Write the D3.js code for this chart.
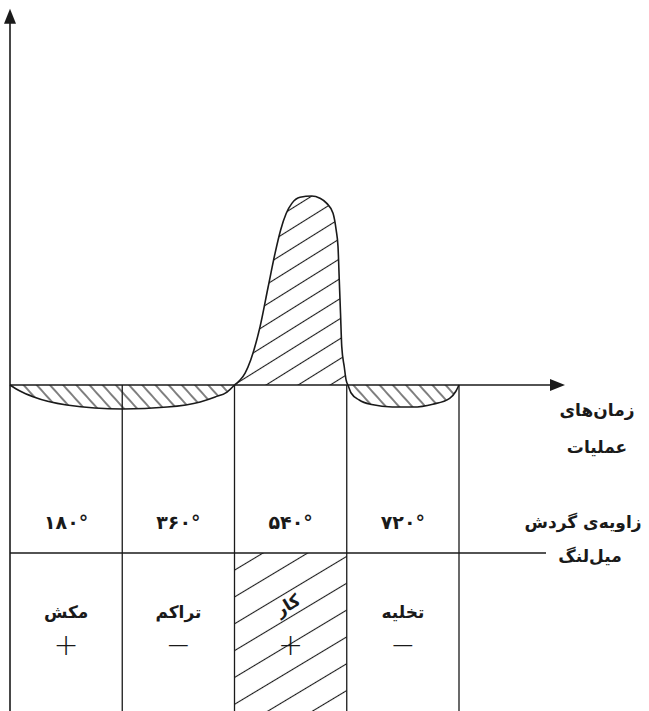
<!DOCTYPE html>
<html lang="fa">
<head>
<meta charset="UTF-8">
<title>چرخه‌ی موتور چهارزمانه</title>
<script src="https://d3js.org/d3.v7.min.js"></script>
<style>
  html, body { margin: 0; padding: 0; background: #fff; }
  svg { display: block; }
  .fa { font-family: "DejaVu Sans", sans-serif; font-weight: bold; fill: #1a1a1a; }
</style>
</head>
<body>
<svg id="chart"></svg>
<script>
// crank angle ticks (degrees) and their labels
const crankTicks = [180, 360, 540, 720];
const angleLabels = ["۱۸۰°", "۳۶۰°", "۵۴۰°", "۷۲۰°"];

// strokes and sign of work in each
const strokeNames = ["مکش", "تراکم", "کار", "تخلیه"];
const strokeSigns = ["+", "−", "+", "−"];
const workStroke = "کار";

// pressure curve pieces: [crank angle, pressure]
const intakeCompression = [[0, 0], [16, -3.2], [37, -6.2], [91, -10.5], [181, -12.6], [252, -11.6],
  [305, -8.9], [329, -6.3], [348, -3.7], [360, 0]];
const powerBump = [[360, 0], [369, 2.6], [377, 6.3], [386, 13.2], [401, 30.7], [414, 51.7], [425, 69.3],
  [434, 81.6], [443, 90.4], [452, 95.6], [465, 98.8], [484, 99.5], [497, 98.3], [508, 95.6], [518, 90.4],
  [523, 81.6], [526, 72.8], [528, 55.3], [530, 37.8], [532, 20.2], [536, 9.6], [539, 2.6], [542, 0]];
const exhaust = [[542, 0], [547, -4.2], [560, -7.9], [580, -10.3], [613, -11.6], [646, -11.6],
  [678, -10.1], [705, -7], [715, -3.3], [720, 0]];

// axis labels
const timeLabel = ["زمان\u200cهای", "عملیات"];
const angleAxisLabel = ["زاویه\u200cی گردش", "میل\u200cلنگ"];

const width = 649, height = 711;
const ink = "#1a1a1a";

const svg = d3.select("#chart").attr("width", width).attr("height", height);

const x = d3.scaleLinear().domain([0, 720]).range([10, 459]);
const y = d3.scaleLinear().domain([0, 100]).range([385, 195]);
const xEnd = 890, yTop = 198;

// table rows below the axis
const rowLine = 553;
const angleRowY = 529;
const nameRowY = 618;
const signRowY = 655;

const defs = svg.append("defs");
function hatch(id, gap, angle) {
  const p = defs.append("pattern")
    .attr("id", id)
    .attr("patternUnits", "userSpaceOnUse")
    .attr("width", 20).attr("height", gap)
    .attr("patternTransform", `rotate(${angle})`);
  p.append("line")
    .attr("x1", 0).attr("x2", 20)
    .attr("y1", gap / 2).attr("y2", gap / 2)
    .attr("stroke", ink).attr("stroke-width", 1.1);
}
hatch("hatchNeg", 9.8, 48);
hatch("hatchPos", 17, -32);
hatch("hatchCol", 23, -31);

// hatched column under the work stroke
const wi = strokeNames.indexOf(workStroke);
svg.append("rect")
  .attr("x", x(crankTicks[wi] - 180)).attr("y", rowLine)
  .attr("width", x(crankTicks[wi]) - x(crankTicks[wi] - 180))
  .attr("height", height - rowLine)
  .attr("fill", "url(#hatchCol)");

// areas under the curve
const area = d3.area().x(d => x(d[0])).y0(y(0)).y1(d => y(d[1])).curve(d3.curveMonotoneX);
const line = d3.line().x(d => x(d[0])).y(d => y(d[1])).curve(d3.curveMonotoneX);

[[intakeCompression, "hatchNeg"], [powerBump, "hatchPos"], [exhaust, "hatchNeg"]].forEach(([data, pat]) => {
  svg.append("path").attr("d", area(data)).attr("fill", `url(#${pat})`);
  svg.append("path").attr("d", line(data))
    .attr("fill", "none").attr("stroke", ink).attr("stroke-width", 1.6);
});

// vertical grid lines at crank angle ticks
svg.selectAll(".tick-line").data(crankTicks).join("line")
  .attr("x1", d => x(d)).attr("x2", d => x(d))
  .attr("y1", y(0)).attr("y2", height)
  .attr("stroke", ink).attr("stroke-width", 1.3);

// horizontal table line
svg.append("line")
  .attr("x1", x(0)).attr("x2", 546)
  .attr("y1", rowLine).attr("y2", rowLine)
  .attr("stroke", ink).attr("stroke-width", 1.3);

// axes with arrows
svg.append("line")
  .attr("x1", x(0)).attr("x2", x(0))
  .attr("y1", y(yTop) + 14).attr("y2", height)
  .attr("stroke", ink).attr("stroke-width", 1.6);
svg.append("path")
  .attr("d", `M${x(0)},${y(yTop)} L${x(0) - 6},${y(yTop) + 15} L${x(0) + 6},${y(yTop) + 15} Z`)
  .attr("fill", ink);

svg.append("line")
  .attr("x1", x(0)).attr("x2", x(xEnd) - 14)
  .attr("y1", y(0)).attr("y2", y(0))
  .attr("stroke", ink).attr("stroke-width", 1.6);
svg.append("path")
  .attr("d", `M${x(xEnd)},${y(0)} L${x(xEnd) - 15},${y(0) - 6} L${x(xEnd) - 15},${y(0) + 6} Z`)
  .attr("fill", ink);

// crank angle labels
svg.selectAll(".angle").data(crankTicks).join("text")
  .attr("class", "fa")
  .attr("x", d => x(d - 90)).attr("y", angleRowY)
  .attr("text-anchor", "middle")
  .attr("font-size", 19)
  .text((d, i) => angleLabels[i]);

// stroke names
svg.selectAll(".stroke-name").data(strokeNames).join("text")
  .attr("class", "fa")
  .attr("direction", "rtl")
  .attr("text-anchor", "middle")
  .attr("font-size", 17)
  .attr("transform", (d, i) => {
    const cx = x(crankTicks[i] - 90);
    return d === workStroke ? `translate(${cx},${nameRowY - 8}) rotate(-31)` : `translate(${cx},${nameRowY})`;
  })
  .text(d => d);

svg.selectAll(".sign").data(strokeSigns).join("text")
  .attr("x", (d, i) => x(crankTicks[i] - 90)).attr("y", signRowY)
  .attr("text-anchor", "middle")
  .attr("font-family", "DejaVu Sans, sans-serif")
  .attr("font-size", 30)
  .attr("font-weight", 200)
  .attr("fill", ink)
  .text(d => d);

// axis titles on the right
svg.selectAll(".time-label").data(timeLabel).join("text")
  .attr("class", "fa").attr("direction", "rtl")
  .attr("text-anchor", "middle").attr("font-size", 17)
  .attr("x", 597).attr("y", (d, i) => 416 + i * 37)
  .text(d => d);

svg.selectAll(".angle-label").data(angleAxisLabel).join("text")
  .attr("class", "fa").attr("direction", "rtl")
  .attr("text-anchor", "middle").attr("font-size", 17)
  .attr("x", (d, i) => i === 0 ? 583 : 590).attr("y", (d, i) => 528 + i * 34)
  .text(d => d);
</script>
</body>
</html>
